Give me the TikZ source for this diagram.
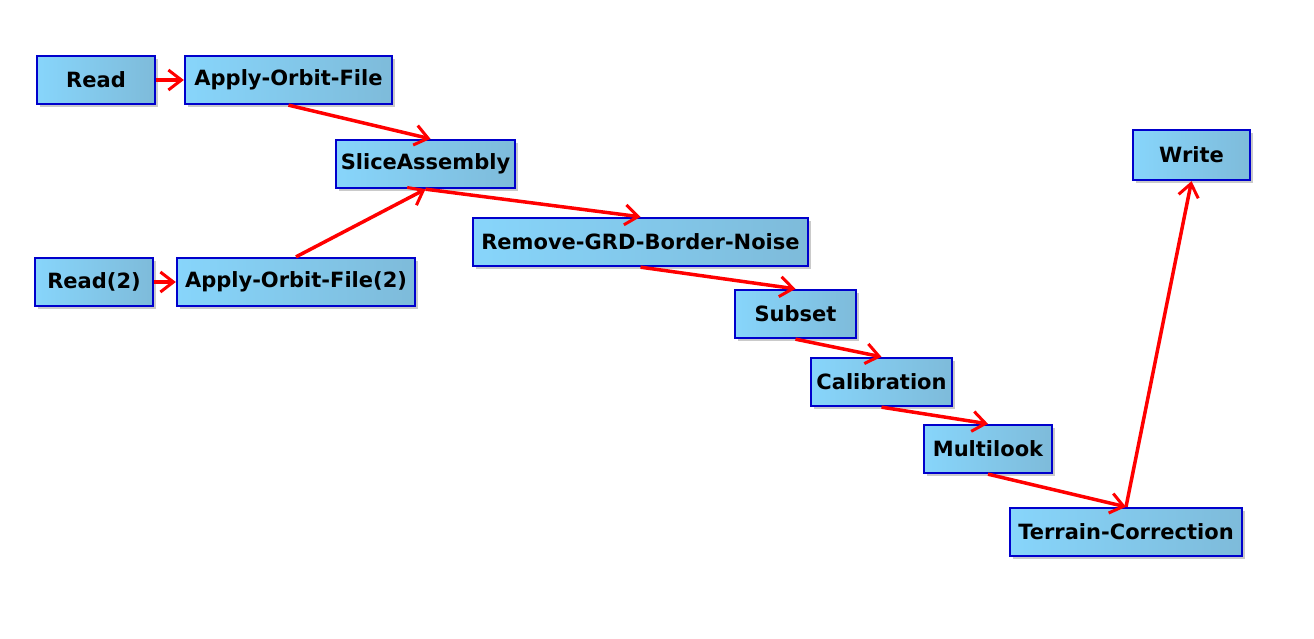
\documentclass[tikz,border=0pt]{standalone}
\usepackage{fontspec}
\newfontfamily\boxfont{DejaVu Sans}
\usetikzlibrary{arrows.meta,shadows}

\definecolor{boxleft}{HTML}{87D5FB}
\definecolor{boxright}{HTML}{7EBBDA}
\definecolor{boxline}{HTML}{0000CC}

\tikzset{
  opbox/.style={draw=boxline, line width=2.3pt, left color=boxleft, right color=boxright,
    minimum height=48pt, inner sep=0pt, font=\boxfont\bfseries\fontsize{21}{24}\selectfont,
    drop shadow={shadow xshift=3pt, shadow yshift=-3pt, opacity=0.35, fill=black!60}},
  flow/.style={draw=red, line width=3.5pt, -{Straight Barb[length=13pt,width=20pt,line width=3pt]}}
}

\begin{document}
\begin{tikzpicture}[x=1pt,y=-1pt]
    \useasboundingbox (0,0) rectangle (1314,638);

    \node[opbox, minimum width=118pt] (read) at (96,80) {Read};
    \node[opbox, minimum width=207pt] (orbit) at (288.5,80) {Apply-Orbit-File};
    \node[opbox, minimum width=179pt] (slice) at (425.5,164) {SliceAssembly};
    \node[opbox, minimum width=335pt] (noise) at (640.5,242) {Remove-GRD-Border-Noise};
    \node[opbox, minimum width=118pt] (read2) at (94,282) {Read(2)};
    \node[opbox, minimum width=238pt] (orbit2) at (296,282) {Apply-Orbit-File(2)};
    \node[opbox, minimum width=121pt] (subset) at (795.5,314) {Subset};
    \node[opbox, minimum width=141pt] (calib) at (881.5,382) {Calibration};
    \node[opbox, minimum width=128pt] (multi) at (988,449) {Multilook};
    \node[opbox, minimum width=232pt] (terrain) at (1126,532) {Terrain-Correction};
    \node[opbox, minimum width=117pt, minimum height=50pt] (write) at (1191.5,155) {Write};

    \draw[flow] (read.east) -- (orbit.west);
    \draw[flow] (read2.east) -- (orbit2.west);
    \draw[flow] (orbit.south) -- ([xshift=5pt]slice.north);
    \draw[flow] (orbit2.north) -- (slice.south);
    \draw[flow] (slice.south) -- (noise.north);
    \draw[flow] (noise.south) -- (subset.north);
    \draw[flow] (subset.south) -- (calib.north);
    \draw[flow] (calib.south) -- (multi.north);
    \draw[flow] (multi.south) -- (terrain.north);
    \draw[flow] (terrain.north) -- (write.south);
\end{tikzpicture}
\end{document}
